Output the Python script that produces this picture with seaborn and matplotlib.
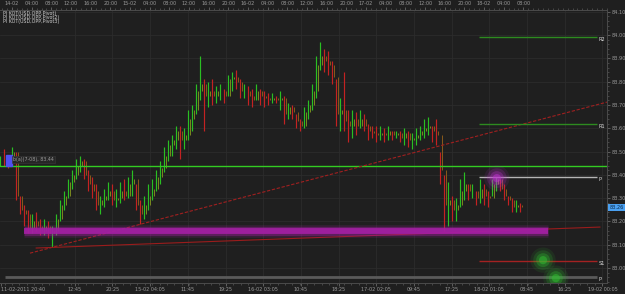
import numpy as np
import pandas as pd
import matplotlib
matplotlib.use("Agg")
import matplotlib.pyplot as plt
import seaborn as sns
from matplotlib.ticker import FixedLocator, MultipleLocator

# ---------------- data (prices) ----------------
highs = [83.48, 83.51, 83.48, 83.52, 83.50, 83.31, 83.27, 83.25, 83.23, 83.24,
         83.21, 83.21, 83.20, 83.18, 83.23, 83.29, 83.33, 83.38, 83.42, 83.47,
         83.48, 83.47, 83.42, 83.39, 83.36, 83.31, 83.34, 83.37, 83.36, 83.34,
         83.37, 83.38, 83.39, 83.42, 83.36, 83.29, 83.31, 83.36, 83.38, 83.42,
         83.46, 83.52, 83.55, 83.57, 83.61, 83.61, 83.60, 83.68, 83.70, 83.79,
         83.91, 83.81, 83.80, 83.81, 83.78, 83.79, 83.77, 83.83, 83.84, 83.85,
         83.81, 83.79, 83.78, 83.77, 83.79, 83.77, 83.76, 83.75, 83.75, 83.74,
         83.76, 83.74, 83.71, 83.70, 83.66, 83.64, 83.69, 83.72, 83.79, 83.91,
         83.97, 83.94, 83.93, 83.89, 83.81, 83.73, 83.84, 83.68, 83.68, 83.67,
         83.68, 83.66, 83.62, 83.61, 83.61, 83.61, 83.60, 83.61, 83.59, 83.59,
         83.59, 83.60, 83.59, 83.58, 83.60, 83.61, 83.64, 83.65, 83.61, 83.64,
         83.50, 83.40, 83.37, 83.31, 83.30, 83.38, 83.41, 83.36, 83.36, 83.33,
         83.38, 83.36, 83.33, 83.38, 83.39, 83.38, 83.36, 83.31, 83.30, 83.29,
         83.28]
lows = [83.44, 83.44, 83.43, 83.45, 83.29, 83.23, 83.18, 83.15, 83.15, 83.16,
        83.14, 83.14, 83.13, 83.09, 83.14, 83.20, 83.25, 83.30, 83.34, 83.38,
        83.41, 83.38, 83.33, 83.30, 83.25, 83.23, 83.26, 83.29, 83.27, 83.26,
        83.28, 83.29, 83.30, 83.31, 83.25, 83.19, 83.21, 83.25, 83.29, 83.33,
        83.36, 83.41, 83.46, 83.48, 83.51, 83.47, 83.51, 83.55, 83.59, 83.66,
        83.72, 83.59, 83.69, 83.70, 83.71, 83.72, 83.71, 83.74, 83.76, 83.77,
        83.73, 83.73, 83.70, 83.69, 83.72, 83.70, 83.69, 83.70, 83.71, 83.71,
        83.68, 83.62, 83.64, 83.64, 83.60, 83.59, 83.60, 83.64, 83.68, 83.73,
        83.85, 83.84, 83.83, 83.79, 83.61, 83.59, 83.59, 83.54, 83.56, 83.57,
        83.60, 83.59, 83.55, 83.56, 83.54, 83.55, 83.54, 83.55, 83.55, 83.56,
        83.54, 83.53, 83.52, 83.51, 83.53, 83.55, 83.56, 83.57, 83.54, 83.53,
        83.36, 83.16, 83.18, 83.20, 83.20, 83.26, 83.29, 83.29, 83.30, 83.27,
        83.28, 83.27, 83.26, 83.31, 83.33, 83.33, 83.29, 83.27, 83.24, 83.24,
        83.24]
closes = [83.47, 83.46, 83.45, 83.50, 83.31, 83.25, 83.23, 83.17, 83.20, 83.18,
          83.16, 83.18, 83.15, 83.16, 83.21, 83.27, 83.31, 83.37, 83.40, 83.44,
          83.46, 83.40, 83.36, 83.33, 83.27, 83.29, 83.31, 83.33, 83.29, 83.30,
          83.33, 83.31, 83.36, 83.38, 83.27, 83.23, 83.27, 83.31, 83.34, 83.39,
          83.43, 83.48, 83.53, 83.55, 83.59, 83.55, 83.57, 83.64, 83.68, 83.76,
          83.79, 83.74, 83.76, 83.74, 83.76, 83.76, 83.74, 83.81, 83.82, 83.80,
          83.76, 83.76, 83.74, 83.72, 83.76, 83.74, 83.73, 83.72, 83.73, 83.72,
          83.73, 83.66, 83.69, 83.67, 83.63, 83.61, 83.67, 83.70, 83.76, 83.87,
          83.91, 83.89, 83.87, 83.82, 83.66, 83.68, 83.63, 83.61, 83.64, 83.61,
          83.64, 83.61, 83.59, 83.58, 83.57, 83.58, 83.57, 83.59, 83.57, 83.58,
          83.56, 83.58, 83.55, 83.56, 83.57, 83.59, 83.60, 83.61, 83.59, 83.57,
          83.42, 83.27, 83.29, 83.25, 83.27, 83.33, 83.36, 83.33, 83.33, 83.30,
          83.34, 83.31, 83.30, 83.36, 83.38, 83.34, 83.31, 83.29, 83.26, 83.27,
          83.26]

# time axis: hours since 14-02 00:00
bar_start_h = -2.44
bar_step_h = 0.8135

# pivot levels
level_names = ["R2", "R1", "P", "S1", "P"]
level_values = [83.99, 83.62, 83.39, 83.03, 82.96]
level_start_h = [95.0, 95.0, 95.0, 95.0, -1.4]
level_end_h = 119.0

support_level = 83.44          # long green line
band_level = 83.159            # purple band
band_span_h = [2.44, 109.0]
trend1_h = [3.66, 121.0]
trend1_p = [83.064, 83.712]
trend2_h = [4.88, 119.6]
trend2_p = [83.086, 83.176]
glow_h = [98.6, 108.0, 110.6]
glow_p = [83.386, 83.034, 82.957]
last_price = 83.26

top_tick_h = list(range(0, 105, 4))
top_tick_labels = []
for h in top_tick_h:
    d, r = divmod(h, 24)
    top_tick_labels.append(f"{14 + d:02d}-02" if r == 0 else f"{r:02d}:00")

bottom_tick_h = [-2.3, 12.75, 20.42, 28.08, 35.75, 43.42, 51.08, 58.75, 66.42,
                 74.08, 81.75, 89.42, 97.08, 104.75, 112.42, 120.08]
bottom_tick_labels = ["11-02-2011 20:40", "12:45", "20:25", "15-02 04:05", "11:45",
                      "19:25", "16-02 03:05", "10:45", "18:25", "17-02 02:05",
                      "09:45", "17:25", "18-02 01:05", "08:45", "16:25", "19-02 00:05"]

legend_lines = ["PI KOT(USD,OPP,Pivot)", "PI KOT(USD,OPP,Pivot2)", "PI KOT(USD,OPP,Pivot3)"]

# ---------------- style ----------------
BG = "#1f1f1f"
GRID = "#2c2c2c"
TXT = "#9a9a9a"
sns.set_style("dark", {"axes.facecolor": BG, "figure.facecolor": BG,
                       "axes.edgecolor": "#555555", "grid.color": GRID})
plt.rcParams["font.family"] = ["DejaVu Sans"]

W, H = 625, 294
fig = plt.figure(figsize=(W / 100, H / 100), dpi=100)
ax = fig.add_axes([0, (H - 283) / H, 607 / W, (283 - 10) / H])
ax.set_facecolor(BG)

x0, x1 = -2.44, 121.0
y0, y1 = 82.936, 84.107
ax.set_xlim(x0, x1)
ax.set_ylim(y0, y1)

# grid
for h in bottom_tick_h[1:]:
    ax.axvline(h, color=GRID, lw=0.6, zorder=0)
for p in np.arange(83.0, 84.11, 0.1):
    ax.axhline(p, color=GRID, lw=0.6, zorder=0)

# bars
n = len(closes)
t = bar_start_h + bar_step_h * np.arange(n)
opens = [closes[0]] + closes[:-1]
df = pd.DataFrame({"t": t, "high": highs, "low": lows, "close": closes, "open": opens})
df["up"] = df["close"] >= df["open"]
cols = np.where(df["up"], "#2abf22", "#c42222")
ax.vlines(df["t"], df["low"], df["high"], colors=cols, lw=0.85, zorder=3)
ax.vlines(df["t"] + bar_step_h * 0.5, np.minimum(df["open"], df["close"]),
          np.maximum(df["open"], df["close"]), colors=np.where(df["up"], "#7a8a20", "#8a5a1a"),
          lw=0.7, zorder=3)

# long support line
ax.axhline(support_level, color="#33cc22", lw=1.0, zorder=4)

# trend lines
ax.plot(trend1_h, trend1_p, color="#a02020", lw=0.8, ls=(0, (3, 1.5)), zorder=4)
ax.plot(trend2_h, trend2_p, color="#9a1c1c", lw=0.8, zorder=4)

# purple band with glow
for lw, a in [(9, 0.18), (6.5, 0.35), (4.2, 0.9)]:
    ax.plot(band_span_h, [band_level, band_level], color="#a51fa5", lw=lw,
            alpha=a, solid_capstyle="butt", zorder=5)

# pivot level lines
level_colors = ["#2d8a1f", "#2d8a1f", "#b5b5b5", "#a42222", "#5a5a5a"]
level_widths = [1.0, 1.0, 1.0, 1.0, 2.0]
for name, val, st, c, lw in zip(level_names, level_values, level_start_h, level_colors, level_widths):
    ax.plot([st, level_end_h], [val, val], color=c, lw=lw, zorder=4, solid_capstyle="butt")
    ax.text(level_end_h + 0.3, val, name, color="#dddddd", fontsize=3.6,
            va="top", ha="left", zorder=6)

# glows
glow_df = pd.DataFrame({"h": glow_h, "p": glow_p, "kind": ["purple", "green", "green"]})
for s, a in [(330, 0.10), (200, 0.18), (100, 0.3), (35, 0.5)]:
    sns.scatterplot(data=glow_df, x="h", y="p", hue="kind",
                    palette={"purple": "#c030d0", "green": "#30c030"},
                    s=s, alpha=a, edgecolor="none", legend=False, ax=ax, zorder=7)
ax.set_xlabel("")
ax.set_ylabel("")

# blue marker box & label
ax.add_patch(plt.Rectangle((-1.2, 83.44), 1.1, 0.045, color="#5050f0", zorder=6))
ax.text(0.2, 83.465, "b(a)(7-08), 83.44", fontsize=3.4, color=TXT, va="center",
        ha="left", zorder=6,
        bbox=dict(boxstyle="square,pad=0.15", fc="#262626", ec="#3a3a3a", lw=0.4))

# legend lines
for i, s in enumerate(legend_lines):
    fig.text(3 / W, 1 - (13 + 4.5 * i) / H, s, fontsize=3.4, color="#cfcfcf",
             va="center", ha="left")

# right axis
ax.yaxis.tick_right()
ax.yaxis.set_major_locator(FixedLocator(np.round(np.arange(83.0, 84.11, 0.1), 2)))
ax.yaxis.set_minor_locator(MultipleLocator(0.02))
ax.set_yticklabels([f"{v:.2f}" for v in np.arange(83.0, 84.11, 0.1)])
ax.tick_params(axis="y", which="major", length=2.5, width=0.5, colors="#777777",
               labelsize=3.6, labelcolor=TXT, pad=1.0, right=True, left=False,
               labelleft=False)
ax.tick_params(axis="y", which="minor", length=1.5, width=0.4, colors="#666666",
               right=True, left=False)

# bottom axis
ax.xaxis.set_major_locator(FixedLocator(bottom_tick_h))
ax.set_xticklabels(bottom_tick_labels)
ax.xaxis.set_minor_locator(MultipleLocator(1.5))
ax.tick_params(axis="x", which="major", length=2.0, width=0.5, colors="#777777",
               labelsize=3.5, labelcolor=TXT, pad=0.8)
ax.tick_params(axis="x", which="minor", length=1.2, width=0.4, colors="#666666",
               bottom=True)
for lbl in ax.get_xticklabels():
    lbl.set_color(TXT)
ax.get_xticklabels()[0].set_horizontalalignment("left")

# top axis
axt = ax.twiny()
axt.set_xlim(x0, x1)
axt.xaxis.set_major_locator(FixedLocator(top_tick_h))
axt.set_xticklabels(top_tick_labels)
axt.xaxis.set_minor_locator(MultipleLocator(1))
axt.tick_params(axis="x", which="major", length=2.0, width=0.5, colors="#777777",
                labelsize=3.5, labelcolor=TXT, pad=0.8)
axt.tick_params(axis="x", which="minor", length=1.2, width=0.4, colors="#666666")
axt.tick_params(axis="y", left=False, right=False, labelleft=False, labelright=False)
axt.grid(False)
ax.grid(False)

for a in (ax, axt):
    a.spines["left"].set_visible(False)
    for sp in ["right", "top", "bottom"]:
        a.spines[sp].set_color("#4a4a4a")
        a.spines[sp].set_linewidth(0.7)

# current price box
ax.text(x1 + 0.5, last_price, f"{last_price:.2f}", fontsize=3.6, color="#0b2a4a",
        va="center", ha="left", zorder=8, clip_on=False,
        bbox=dict(boxstyle="square,pad=0.2", fc="#4aa0f0", ec="none"))

fig.savefig("out.png", dpi=100, facecolor=BG)
